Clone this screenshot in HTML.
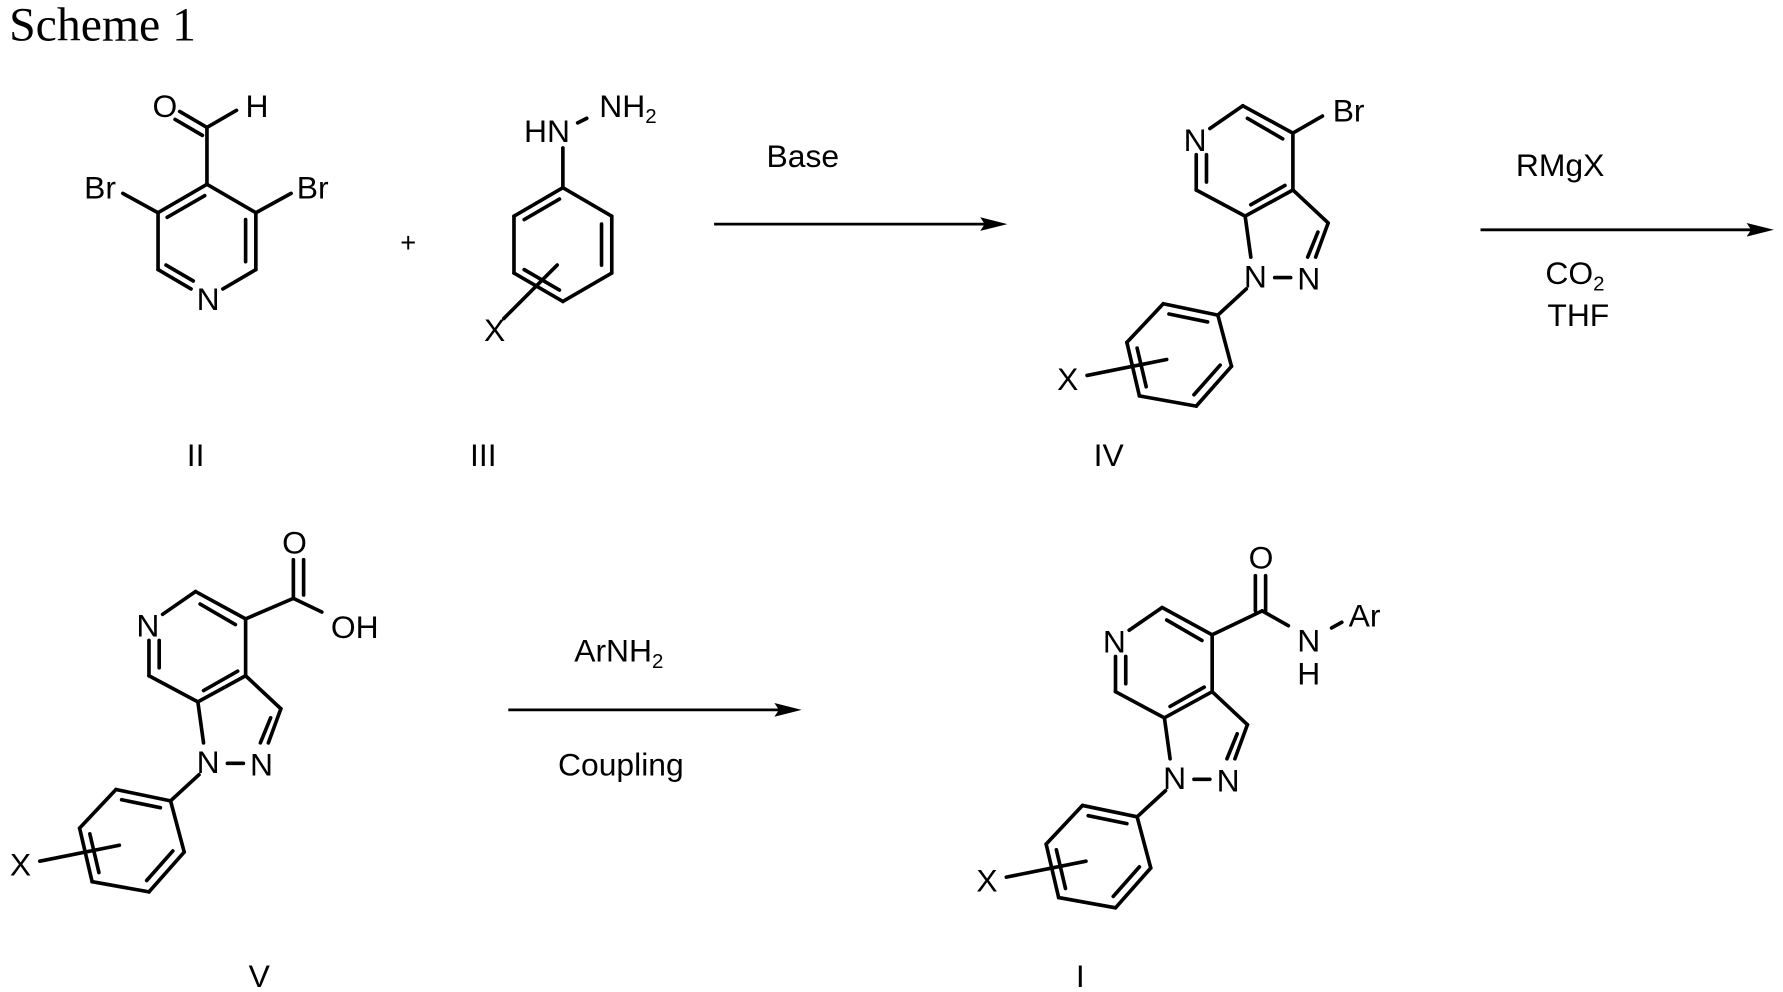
<!DOCTYPE html>
<html><head><meta charset="utf-8"><style>
html,body{margin:0;padding:0;background:#fff;}
svg{display:block;}
text{font-family:"Liberation Sans",Arial,sans-serif;font-size:28px;fill:#000;dominant-baseline:central;text-anchor:middle;}
.s{font-size:18px;}
</style></head><body>
<svg width="1783" height="992" viewBox="0 0 1568 872" preserveAspectRatio="none" xmlns="http://www.w3.org/2000/svg">
<defs>
<g id="core" stroke="#000" stroke-width="3.2" fill="none" stroke-linecap="round">
  <line x1="1064" y1="113" x2="1093" y2="93"/>
  <line x1="1093" y1="93" x2="1137" y2="117"/>
  <line x1="1097" y1="104" x2="1128" y2="122"/>
  <line x1="1137" y1="117" x2="1137" y2="167"/>
  <line x1="1137" y1="167" x2="1095" y2="190"/>
  <line x1="1130" y1="163" x2="1100" y2="180"/>
  <line x1="1095" y1="190" x2="1052" y2="167"/>
  <line x1="1052" y1="167" x2="1052" y2="136"/>
  <line x1="1061" y1="160" x2="1061" y2="136"/>
  <line x1="1137" y1="167" x2="1168" y2="196"/>
  <line x1="1168" y1="196" x2="1157" y2="226"/>
  <line x1="1159" y1="204" x2="1150" y2="226"/>
  <line x1="1095" y1="190" x2="1100" y2="226"/>
  <line x1="1121" y1="244" x2="1135" y2="244"/>
  <line x1="1096" y1="254" x2="1071" y2="277"/>
  <line x1="1071" y1="277" x2="1023" y2="267"/>
  <line x1="1062" y1="283" x2="1028" y2="276"/>
  <line x1="1023" y1="267" x2="991" y2="301"/>
  <line x1="991" y1="301" x2="1002" y2="348"/>
  <line x1="1000" y1="306" x2="1008" y2="340"/>
  <line x1="1002" y1="348" x2="1052" y2="357"/>
  <line x1="1052" y1="357" x2="1083" y2="322"/>
  <line x1="1050" y1="347" x2="1073" y2="321"/>
  <line x1="1083" y1="322" x2="1071" y2="277"/>
  <line x1="956" y1="330" x2="1026" y2="316"/>
</g>
<g id="corelabels">
  <text x="1051" y="123">N</text>
  <text x="1104" y="243">N</text>
  <text x="1151" y="245">N</text>
  <text x="939" y="333">X</text>
</g>
</defs>

<text x="8" y="22" style="font-family:'Liberation Serif',serif;font-size:42px;text-anchor:start;">Scheme 1</text>

<g stroke="#000" stroke-width="3.2" fill="none" stroke-linecap="round">
  <line x1="182" y1="162" x2="139" y2="187"/>
  <line x1="180" y1="172" x2="147" y2="191"/>
  <line x1="139" y1="187" x2="139" y2="237"/>
  <line x1="139" y1="237" x2="168" y2="254"/>
  <line x1="146" y1="233" x2="170" y2="247"/>
  <line x1="196" y1="254" x2="225" y2="237"/>
  <line x1="225" y1="237" x2="225" y2="187"/>
  <line x1="216" y1="230" x2="216" y2="193"/>
  <line x1="225" y1="187" x2="182" y2="162"/>
  <line x1="182" y1="162" x2="182" y2="112"/>
  <line x1="182" y1="112" x2="158" y2="98"/>
  <line x1="178" y1="119" x2="154" y2="105"/>
  <line x1="182" y1="112" x2="208" y2="97"/>
  <line x1="139" y1="187" x2="108" y2="170"/>
  <line x1="225" y1="187" x2="256" y2="170"/>
</g>
<text x="145" y="93">O</text>
<text x="226" y="93">H</text>
<text x="88" y="165">Br</text>
<text x="275" y="165">Br</text>
<text x="183" y="263">N</text>
<text x="172" y="400">II</text>

<text x="359" y="213" style="font-size:24px">+</text>

<g stroke="#000" stroke-width="3.2" fill="none" stroke-linecap="round">
  <line x1="495" y1="130" x2="495" y2="165"/>
  <line x1="495" y1="165" x2="452" y2="190"/>
  <line x1="492" y1="175" x2="461" y2="193"/>
  <line x1="452" y1="190" x2="452" y2="240"/>
  <line x1="452" y1="240" x2="495" y2="265"/>
  <line x1="461" y1="237" x2="492" y2="255"/>
  <line x1="495" y1="265" x2="538" y2="240"/>
  <line x1="538" y1="240" x2="538" y2="190"/>
  <line x1="529" y1="233" x2="529" y2="197"/>
  <line x1="538" y1="190" x2="495" y2="165"/>
  <line x1="443" y1="280" x2="490" y2="233"/>
  <line x1="508" y1="108" x2="516" y2="104"/>
</g>
<text x="481" y="115">HN</text>
<text x="527" y="93" style="text-anchor:start">NH<tspan class="s" dy="9">2</tspan></text>
<text x="435" y="290">X</text>
<text x="425" y="400">III</text>

<line x1="628" y1="197" x2="868" y2="197" stroke="#000" stroke-width="2.5"/>
<polygon points="886,197 862,191 866,197 862,203" fill="#000"/>
<text x="706" y="137">Base</text>

<use href="#core"/>
<use href="#corelabels"/>
<line x1="1137" y1="117" x2="1163" y2="102" stroke="#000" stroke-width="3.2" stroke-linecap="round"/>
<text x="1186" y="97">Br</text>
<text x="975" y="400">IV</text>

<line x1="1302" y1="202" x2="1540" y2="202" stroke="#000" stroke-width="2.5"/>
<polygon points="1560,202 1536,196 1540,202 1536,208" fill="#000"/>
<text x="1372" y="145">RMgX</text>
<text x="1359" y="240" style="text-anchor:start">CO<tspan class="s" dy="9">2</tspan></text>
<text x="1388" y="277">THF</text>

<g transform="translate(-921,427)">
  <use href="#core"/>
  <use href="#corelabels"/>
</g>
<g stroke="#000" stroke-width="3.2" fill="none" stroke-linecap="round">
  <line x1="216" y1="544" x2="258" y2="526"/>
  <line x1="258" y1="526" x2="258" y2="492"/>
  <line x1="267" y1="523" x2="267" y2="492"/>
  <line x1="258" y1="526" x2="283" y2="538"/>
</g>
<text x="259" y="477">O</text>
<text x="312" y="551">OH</text>
<text x="228" y="858">V</text>

<line x1="447" y1="624" x2="686" y2="624" stroke="#000" stroke-width="2.5"/>
<polygon points="705,624 681,618 685,624 681,630" fill="#000"/>
<text x="505" y="572" style="text-anchor:start">ArNH<tspan class="s" dy="9">2</tspan></text>
<text x="546" y="672">Coupling</text>

<g transform="translate(-71,441)">
  <use href="#core"/>
  <use href="#corelabels"/>
</g>
<g stroke="#000" stroke-width="3.2" fill="none" stroke-linecap="round">
  <line x1="1066" y1="558" x2="1110" y2="537"/>
  <line x1="1104" y1="537" x2="1104" y2="506"/>
  <line x1="1113" y1="537" x2="1113" y2="506"/>
  <line x1="1110" y1="537" x2="1133" y2="550"/>
  <line x1="1171" y1="552" x2="1180" y2="547"/>
</g>
<text x="1109" y="490">O</text>
<text x="1151" y="563">N</text>
<text x="1151" y="592">H</text>
<text x="1200" y="541">Ar</text>
<text x="950" y="858">I</text>
</svg>
</body></html>
